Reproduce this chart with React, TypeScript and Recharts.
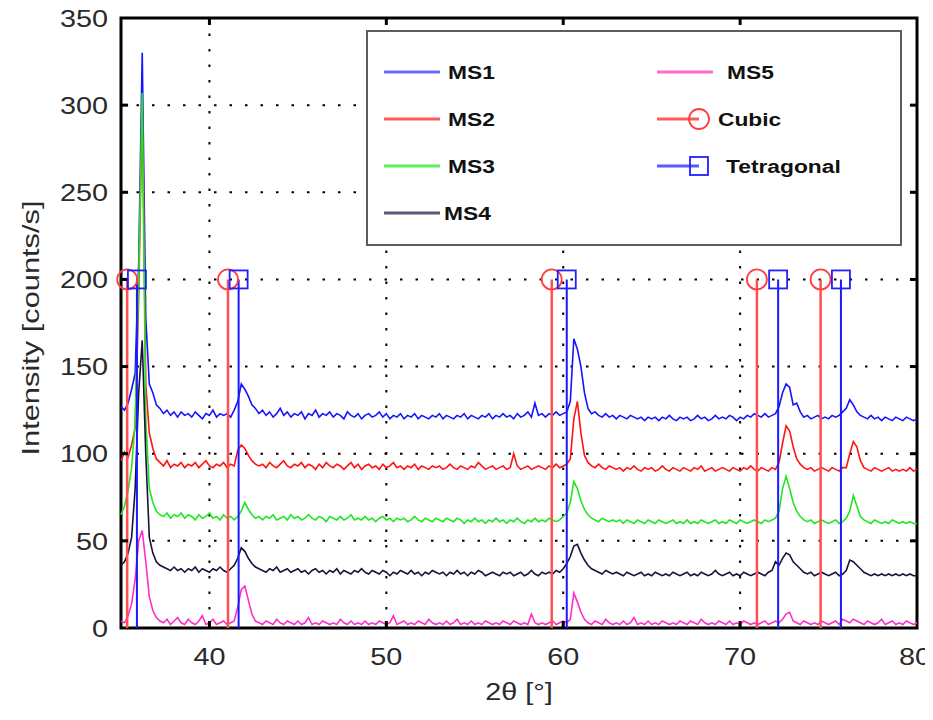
import React from 'react';
import {
  ComposedChart,
  Line,
  Scatter,
  XAxis,
  YAxis,
  CartesianGrid,
  ReferenceLine,
  ReferenceArea,
} from 'recharts';

// 2θ sampling grid, 35° .. 80° every 0.2°
const twoTheta = Array.from({ length: 226 }, (_, i) => Math.round((35 + i * 0.2) * 10) / 10);

// intensities, one row = 2°
const ms1 = [
  127, 125, 129, 137, 146, 210, 330, 178, 140, 135,
  128, 126, 123, 125, 122, 124, 121, 124, 122, 123,
  121, 124, 122, 120, 123, 122, 125, 121, 123, 122,
  123, 121, 125, 130, 140, 137, 133, 128, 126, 123,
  125, 122, 124, 121, 123, 126, 122, 124, 121, 123,
  122, 124, 120, 123, 122, 125, 121, 123, 122, 124,
  121, 123, 122, 120, 124, 122, 121, 123, 120, 122,
  123, 121, 122, 124, 121, 123, 120, 122, 121, 123,
  120, 122, 121, 123, 120, 122, 121, 120, 122, 121,
  123, 120, 122, 121, 120, 122, 121, 123, 120, 122,
  121, 120, 122, 121, 123, 120, 122, 121, 123, 121,
  122, 120, 123, 121, 122, 124, 121, 129, 122, 123,
  121, 123, 122, 124, 122, 123, 124, 130, 166, 160,
  150, 135, 126, 123, 124, 122, 121, 123, 121, 122,
  120, 122, 121, 120, 122, 121, 120, 121, 119, 121,
  120, 121, 119, 121, 120, 122, 120, 119, 121, 120,
  121, 119, 120, 122, 120, 121, 119, 120, 122, 120,
  121, 120, 122, 121, 119, 121, 120, 122, 121, 123,
  122, 121, 123, 121, 122, 123, 127, 135, 140, 138,
  128, 129, 124, 121, 122, 120, 121, 122, 120, 121,
  120, 122, 121, 122, 124, 126, 131, 128, 124, 122,
  121, 120, 122, 120, 121, 119, 121, 120, 119, 121,
  120, 119, 121, 120, 119, 120,
];

const ms2 = [
  96, 101, 98, 105, 115, 190, 302, 140, 112, 103,
  97, 95, 93, 96, 92, 94, 93, 95, 92, 94,
  93, 95, 92, 94, 96, 93, 92, 94, 93, 95,
  92, 94, 93, 102, 105, 103, 99, 96, 94, 93,
  94, 92, 95, 93, 92, 94, 96, 93, 92, 94,
  93, 95, 92, 94, 93, 91, 94, 92, 95, 93,
  92, 94, 93, 91, 93, 95, 92, 94, 91, 93,
  94, 92, 93, 91, 94, 92, 93, 95, 92, 93,
  91, 93, 92, 94, 91, 93, 92, 91, 93, 92,
  93, 91, 92, 94, 92, 91, 93, 92, 91, 93,
  92, 95, 93, 91, 92, 93, 91, 92, 93, 91,
  92, 100, 93, 91, 92, 93, 91, 92, 93, 92,
  91, 93, 92, 94, 92, 93, 94, 97, 120, 130,
  112, 99, 95, 93, 92, 94, 92, 91, 93, 92,
  91, 92, 90, 92, 91, 93, 91, 90, 92, 91,
  92, 90, 91, 93, 91, 90, 92, 91, 90, 92,
  91, 90, 92, 91, 93, 90, 91, 92, 90, 91,
  92, 91, 90, 92, 91, 90, 92, 91, 93, 91,
  90, 92, 91, 90, 92, 91, 95, 106, 116, 113,
  104, 97, 94, 92, 91, 92, 90, 91, 92, 91,
  90, 92, 91, 90, 92, 92, 100, 107, 104, 96,
  92, 91, 90, 92, 91, 90, 91, 92, 90, 91,
  90, 91, 90, 92, 90, 91,
];

const ms3 = [
  65, 70, 79, 92, 118, 200, 307, 120, 80, 72,
  67, 65, 64, 66, 63, 65, 64, 66, 63, 65,
  64, 62, 65, 63, 64, 66, 63, 64, 62, 65,
  63, 64, 62, 64, 67, 72, 68, 65, 63, 64,
  62, 64, 63, 65, 62, 63, 64, 62, 65, 63,
  64, 62, 63, 65, 63, 62, 64, 63, 61, 64,
  63, 62, 64, 62, 63, 65, 62, 63, 62, 64,
  62, 63, 61, 63, 64, 62, 63, 61, 63, 62,
  63, 61, 62, 64, 62, 61, 63, 62, 61, 63,
  62, 61, 63, 62, 61, 63, 62, 60, 62, 61,
  63, 61, 62, 60, 62, 61, 63, 61, 62, 60,
  62, 61, 63, 61, 60, 62, 61, 63, 61, 62,
  61, 63, 62, 61, 62, 64, 66, 72, 84, 80,
  73, 68, 65, 63, 62, 61, 63, 62, 61, 62,
  61, 62, 60, 62, 61, 60, 62, 61, 60, 62,
  61, 60, 62, 61, 60, 61, 62, 60, 61, 60,
  62, 60, 61, 60, 62, 61, 60, 61, 62, 60,
  61, 60, 62, 61, 60, 62, 61, 60, 61, 62,
  61, 60, 62, 61, 62, 63, 67, 80, 87, 80,
  72, 67, 64, 62, 61, 62, 60, 61, 62, 61,
  60, 61, 62, 60, 61, 63, 67, 76, 70, 64,
  62, 61, 60, 62, 61, 60, 61, 60, 62, 61,
  60, 61, 60, 61, 60, 60,
];

const ms4 = [
  36, 38, 43, 52, 80, 135, 165, 100, 52, 43,
  38, 36, 35, 34, 33, 35, 33, 34, 32, 34,
  33, 35, 32, 34, 33, 32, 34, 33, 35, 33,
  32, 34, 36, 40, 46, 44, 40, 37, 35, 34,
  33, 32, 34, 33, 35, 32, 33, 34, 32, 33,
  34, 32, 33, 31, 33, 34, 32, 33, 31, 33,
  32, 34, 31, 33, 32, 31, 33, 32, 34, 32,
  31, 33, 32, 31, 33, 32, 30, 32, 31, 33,
  32, 31, 33, 31, 32, 30, 32, 31, 33, 32,
  31, 32, 30, 32, 31, 33, 31, 32, 30, 32,
  31, 33, 32, 30, 31, 32, 31, 30, 32, 31,
  32, 30, 31, 32, 30, 31, 33, 31, 30, 32,
  31, 32, 31, 33, 32, 34, 37, 41, 47, 48,
  43, 39, 36, 34, 33, 32, 31, 33, 32, 31,
  32, 31, 30, 32, 31, 30, 31, 32, 30, 31,
  30, 32, 31, 30, 31, 30, 32, 31, 30, 31,
  32, 30, 31, 30, 32, 31, 30, 31, 33, 31,
  30, 31, 32, 30, 31, 30, 32, 31, 30, 31,
  32, 31, 30, 32, 33, 38, 36, 40, 43, 42,
  38, 36, 34, 32, 31, 32, 30, 31, 32, 31,
  30, 31, 32, 30, 31, 33, 39, 38, 36, 34,
  32, 31, 30, 31, 30, 31, 30, 31, 30, 31,
  30, 31, 30, 31, 30, 30,
];

const ms5 = [
  4, 3, 7, 14, 28, 50, 56, 38, 18, 10,
  6, 4, 3, 5, 2, 4, 6, 3, 2, 5,
  3, 2, 4, 7, 2, 3, 5, 2, 3, 4,
  2, 3, 4, 12, 22, 24, 16, 8, 4, 3,
  2, 4, 3, 2, 5, 3, 2, 4, 3, 2,
  4, 2, 3, 6, 2, 3, 2, 4, 3, 2,
  3, 2, 5, 3, 2, 4, 2, 3, 2, 4,
  2, 3, 2, 4, 3, 2, 3, 7, 2, 3,
  4, 2, 3, 2, 4, 3, 2, 5, 3, 2,
  3, 2, 4, 2, 3, 5, 2, 3, 2, 4,
  2, 3, 2, 4, 3, 2, 3, 2, 4, 3,
  2, 4, 3, 2, 3, 2, 8, 3, 2, 3,
  2, 3, 4, 2, 3, 4, 3, 5, 20, 15,
  9, 5, 3, 2, 4, 3, 2, 5, 3, 2,
  3, 2, 4, 2, 3, 6, 2, 3, 2, 4,
  2, 3, 2, 4, 3, 2, 3, 2, 4, 3,
  2, 4, 3, 2, 5, 3, 2, 3, 2, 4,
  3, 2, 4, 2, 3, 2, 4, 3, 2, 3,
  2, 3, 4, 2, 3, 4, 3, 5, 8, 9,
  4, 3, 2, 4, 3, 2, 3, 2, 4, 3,
  2, 3, 4, 2, 5, 4, 3, 5, 4, 3,
  2, 4, 3, 2, 3, 5, 2, 3, 4, 2,
  3, 2, 4, 3, 2, 3,
];

// reference peak positions (2θ)
const cubicPeaks = [35.35, 41.05, 59.35, 70.95, 74.55];
const tetragonalPeaks = [35.9, 41.65, 60.2, 72.15, 75.7];
const markerLevel = 200;

const xTicks = [40, 50, 60, 70, 80];
const yTicks = [0, 50, 100, 150, 200, 250, 300, 350];
const innerYTicks = [50, 100, 150, 200, 250, 300];
const innerXTicks = [40, 50, 60, 70];

const series = [
  { key: 'ms1', name: 'MS1', color: '#1414ff', legend: '#6a6aff' },
  { key: 'ms2', name: 'MS2', color: '#ff1414', legend: '#ff5a5a' },
  { key: 'ms3', name: 'MS3', color: '#22e622', legend: '#5cf05c' },
  { key: 'ms4', name: 'MS4', color: '#14143c', legend: '#5a5a78' },
  { key: 'ms5', name: 'MS5', color: '#ff2ec8', legend: '#ff6ad2' },
];

const rows = twoTheta.map((x, i) => ({
  x,
  ms1: ms1[i],
  ms2: ms2[i],
  ms3: ms3[i],
  ms4: ms4[i],
  ms5: ms5[i],
}));

const cubicPts = cubicPeaks.map((x) => ({ x, y: markerLevel }));
const tetraPts = tetragonalPeaks.map((x) => ({ x, y: markerLevel }));

const FONT = '"Liberation Sans", Arial, Helvetica, sans-serif';
const LABEL = '#2a2a2a';

const YTick = ({ x, y, payload }: any) => (
  <text
    transform={`translate(${x - 13},${y}) scale(1.2,1)`}
    textAnchor="end"
    dy="0.36em"
    fontSize={24}
    fontFamily={FONT}
    fill={LABEL}
  >
    {payload.value}
  </text>
);

const XTick = ({ x, y, payload }: any) => (
  <text
    transform={`translate(${payload.value === 80 ? x - 2 : x},${y + 20}) scale(1.2,1)`}
    textAnchor="middle"
    dy="0.71em"
    fontSize={24}
    fontFamily={FONT}
    fill={LABEL}
  >
    {payload.value}
  </text>
);

const XTitle = ({ viewBox }: any) => (
  <text
    transform={`translate(${viewBox.x + viewBox.width / 2},${viewBox.y + 72}) scale(1.2,1)`}
    textAnchor="middle"
    fontSize={24}
    fontFamily={FONT}
    fill={LABEL}
  >
    2θ [°]
  </text>
);

const YTitle = () => (
  <text
    transform="translate(30,328) rotate(-90)"
    textAnchor="middle"
    dy="0.36em"
    fontSize={24}
    fontFamily={FONT}
    fill={LABEL}
    textLength={255}
    lengthAdjust="spacingAndGlyphs"
  >
    Intensity [counts/s]
  </text>
);

const CircleMarker = ({ cx, cy }: any) => (
  <circle cx={cx} cy={cy} r={10} fill="none" stroke="#ff4040" strokeWidth={1.8} />
);

const SquareMarker = ({ cx, cy }: any) => (
  <rect x={cx - 9} y={cy - 9} width={18} height={18} fill="none" stroke="#2020ff" strokeWidth={1.8} />
);

function LegendBox() {
  const textProps = { fontSize: 19, fontFamily: FONT, fontWeight: 700, fill: '#111', dy: '0.35em' };
  const left = series.slice(0, 4);
  const rowY = [40, 87, 134, 181];
  return (
    <div
      style={{
        position: 'absolute',
        left: 366,
        top: 30,
        width: 536,
        height: 216,
        boxSizing: 'border-box',
        background: '#fff',
        border: '2px solid #5c5c5c',
      }}
    >
      <svg width={532} height={212}>
        {left.map((s, i) => (
          <g key={s.key}>
            <line x1={16} x2={72} y1={rowY[i]} y2={rowY[i]} stroke={s.legend} strokeWidth={3} />
            <text transform={`translate(${i === 3 ? 76 : 80},${rowY[i]}) scale(1.2,1)`} {...textProps}>
              {s.name}
            </text>
          </g>
        ))}
        <line x1={289} x2={345} y1={40} y2={40} stroke={series[4].legend} strokeWidth={3} />
        <text transform="translate(359,40) scale(1.2,1)" {...textProps}>MS5</text>

        <line x1={289} x2={331} y1={87} y2={87} stroke="#ff5a5a" strokeWidth={3} />
        <circle cx={331} cy={87} r={10} fill="none" stroke="#ff4040" strokeWidth={1.8} />
        <text transform="translate(350,87) scale(1.2,1)" {...textProps}>Cubic</text>

        <line x1={289} x2={331} y1={134} y2={134} stroke="#5a5aff" strokeWidth={3} />
        <rect x={322} y={125} width={18} height={18} fill="none" stroke="#2020ff" strokeWidth={1.8} />
        <text transform="translate(358,134) scale(1.2,1)" {...textProps}>Tetragonal</text>
      </svg>
    </div>
  );
}

export default function App() {
  return (
    <div style={{ position: 'relative', width: 933, height: 715, margin: -8 }}>
      <ComposedChart width={933} height={715} data={rows} margin={{ top: 18, right: 16, bottom: 37, left: 61 }}>
        <CartesianGrid stroke="#000" strokeWidth={2} strokeDasharray="2.5 13" />
        <XAxis
          type="number"
          dataKey="x"
          domain={[35, 80]}
          ticks={xTicks}
          interval={0}
          height={50}
          tickSize={0}
          tickMargin={0}
          axisLine={false}
          tickLine={false}
          tick={<XTick />}
          label={{ content: (p: any) => <XTitle viewBox={p.viewBox} /> }}
        />
        <YAxis
          type="number"
          domain={[0, 350]}
          ticks={yTicks}
          interval={0}
          width={60}
          tickSize={0}
          tickMargin={0}
          axisLine={false}
          tickLine={false}
          tick={<YTick />}
          label={{ content: () => <YTitle /> }}
        />
        {series.map((s) => (
          <Line
            key={s.key}
            type="linear"
            dataKey={s.key}
            stroke={s.color}
            strokeWidth={1.6}
            dot={false}
            activeDot={false}
            isAnimationActive={false}
          />
        ))}
        {cubicPeaks.map((x) => (
          <ReferenceLine
            key={`c${x}`}
            segment={[{ x, y: 0 }, { x, y: markerLevel }]}
            stroke="#ff5050"
            strokeWidth={2.5}
          />
        ))}
        {tetragonalPeaks.map((x) => (
          <ReferenceLine
            key={`t${x}`}
            segment={[{ x, y: 0 }, { x, y: markerLevel }]}
            stroke="#1a1aff"
            strokeWidth={2}
          />
        ))}
        <Scatter data={cubicPts} dataKey="y" shape={<CircleMarker />} isAnimationActive={false} />
        <Scatter data={tetraPts} dataKey="y" shape={<SquareMarker />} isAnimationActive={false} />
        {innerXTicks.map((x) => (
          <ReferenceLine key={`bx${x}`} segment={[{ x, y: 0 }, { x, y: 4 }]} stroke="#000" strokeWidth={3} />
        ))}
        {innerXTicks.map((x) => (
          <ReferenceLine key={`tx${x}`} segment={[{ x, y: 346 }, { x, y: 350 }]} stroke="#000" strokeWidth={3} />
        ))}
        {innerYTicks.map((y) => (
          <ReferenceLine key={`ly${y}`} segment={[{ x: 35, y }, { x: 35.4, y }]} stroke="#000" strokeWidth={3} />
        ))}
        {innerYTicks.map((y) => (
          <ReferenceLine key={`ry${y}`} segment={[{ x: 79.6, y }, { x: 80, y }]} stroke="#000" strokeWidth={3} />
        ))}
        <ReferenceArea x1={35} x2={80} y1={0} y2={350} fill="none" stroke="#000" strokeWidth={3} />
      </ComposedChart>
      <LegendBox />
    </div>
  );
}
